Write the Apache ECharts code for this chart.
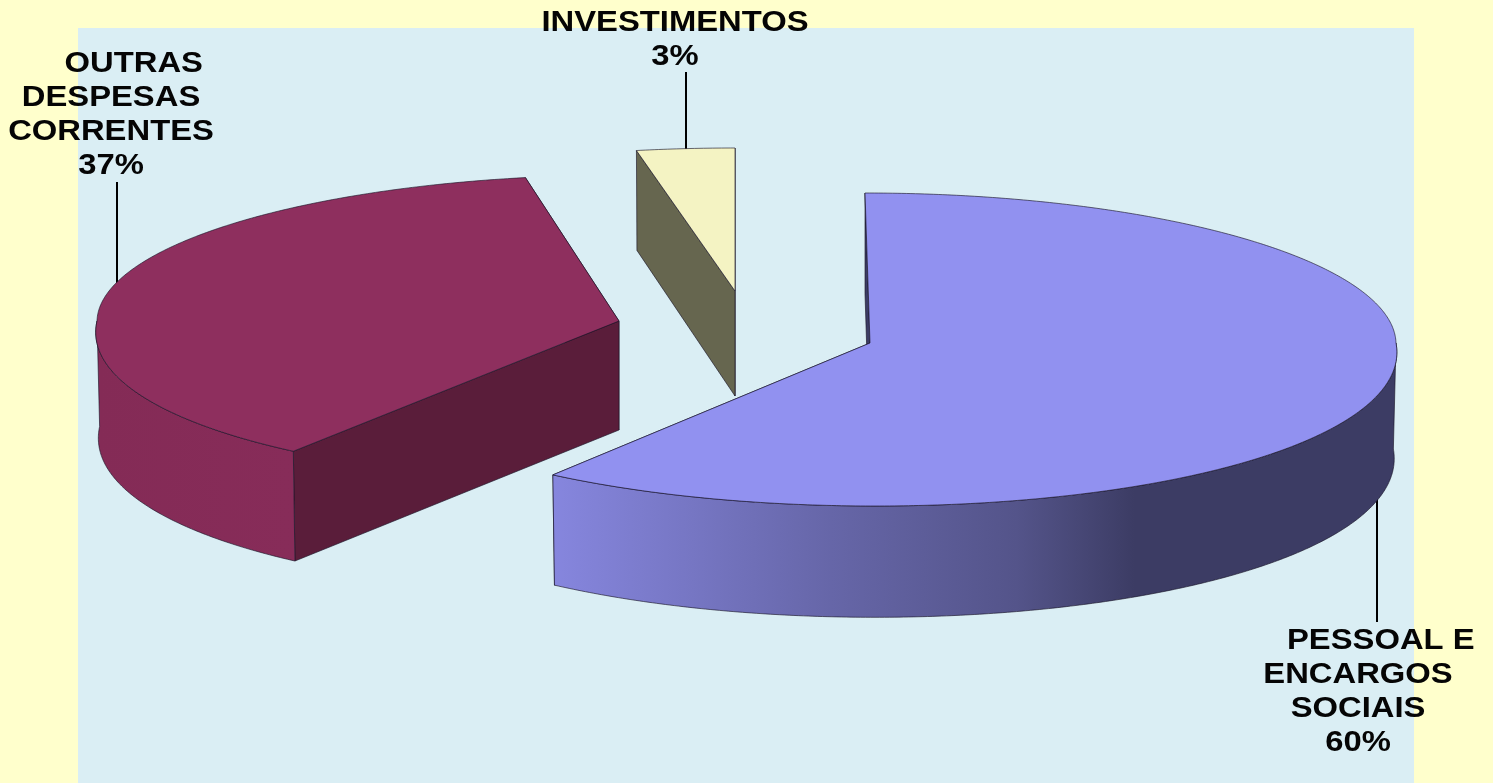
<!DOCTYPE html>
<html><head><meta charset="utf-8">
<style>html,body{margin:0;padding:0;background:#ffffcc}#c{width:1493px;height:783px}</style>
<script src="https://cdn.jsdelivr.net/npm/echarts@6/dist/echarts.min.js"></script>
</head><body><div id="c"></div>
<script>
const categories = ['     PESSOAL E\nENCARGOS\nSOCIAIS', '     OUTRAS\nDESPESAS\nCORRENTES', 'INVESTIMENTOS'];
const values = [60, 37, 3];

// Appearance and placement of each exploded slice
const slices = [
  {cx:870, cy:343, rx:526, ryB:150, ryF:163, d:106, ad:109, w:.048, top:'#9191f0', wall:'#3c3c64',
   rim:{type:'linear',x:553,y:0,x2:1396,y2:0,global:true,colorStops:[
     {offset:0,color:'#8686de'},{offset:.33,color:'#6666a8'},{offset:.55,color:'#54548a'},
     {offset:.69,color:'#3c3c64'},{offset:1,color:'#3c3c64'}]},
   label:[1358,692], leader:[1377,497,1377,622], z:3},
  {cx:619, cy:321, rx:522, ryB:146, ryF:161, d:105.5, ad:109, w:.062, top:'#8e2f5e', wall:'#5a1d3a',
   rim:{type:'linear',x:97,y:0,x2:292,y2:0,global:true,colorStops:[
     {offset:0,color:'#842b56'},{offset:1,color:'#872c59'}]},
   label:[111,115], leader:[117,182,117,292], z:2},
  {cx:735, cy:291, rx:526, ryB:143, ryF:161, d:105, ad:105, w:.048, top:'#f4f3c3', wall:'#66664f', rim:'#66664f',
   label:[675,40], leader:[686,72,686,152], z:1}
];
const vanishX = 735, persp = 0.037, edge = 'rgba(25,20,40,.8)';

function pt(s, deg, base) {
  const a = deg * Math.PI / 180, u = Math.sin(a), v = -Math.cos(a);
  const wide = 1 + s.w * Math.max(v, 0);
  const x = s.cx + s.rx * u * wide * (base ? 0.995 : 1) + (s.cx - vanishX) * persp * v;
  const y = s.cy + (v < 0 ? s.ryB : s.ryF) * v;
  return base ? [x, y + s.d * (1 + 0.05 * v)] : [x, y];
}
function arc(s, a0, a1, base) {
  const out = [], n = Math.max(2, Math.ceil((a1 - a0) * 2));
  for (let i = 0; i <= n; i++) out.push(pt(s, a0 + (a1 - a0) * i / n, base));
  return out;
}
function sideWall(s, deg) {
  return [[s.cx, s.cy], pt(s, deg), pt(s, deg, true), [s.cx, s.cy + s.ad]];
}
function poly(points, fill, z2) {
  return {type:'polygon', z2, shape:{points}, style:{fill, stroke:edge, lineWidth:0.8}};
}

const total = values.reduce((a, b) => a + b, 0);
let acc = 0;
const spans = values.map(v => { const a0 = acc; acc += v / total * 360; return [a0, acc]; });

function renderItem(params, api) {
  const i = params.dataIndex, s = slices[i], [a0, a1] = spans[i], base = s.z * 10;
  const kids = [];
  const L = s.leader;
  kids.push({type:'line', z2:0, shape:{x1:L[0],y1:L[1],x2:L[2],y2:L[3]}, style:{stroke:'#000',lineWidth:2}});
  // far side wall first, nearer one over it
  const ordered = [a0, a1].sort((p, q) => Math.cos(q * Math.PI / 180) - Math.cos(p * Math.PI / 180));
  kids.push(poly(sideWall(s, ordered[0]), s.wall, base));
  kids.push(poly(sideWall(s, ordered[1]), s.wall, base + 1));
  const r0 = Math.max(a0, 90), r1 = Math.min(a1, 270);
  if (r1 > r0) kids.push(poly(arc(s, r0, r1).concat(arc(s, r0, r1, true).reverse()), s.rim, base + 2));
  kids.push(poly([[s.cx, s.cy]].concat(arc(s, a0, a1)), s.top, base + 3));
  kids.push({type:'text', z2:100, x:s.label[0], y:s.label[1], scaleX:1.13,
    style:{text:categories[i] + '\n' + api.value(0) + '%', align:'center', verticalAlign:'middle',
      font:'bold 29px "Liberation Sans", Arial, sans-serif', lineHeight:34, fill:'#050505'}});
  return {type:'group', children:kids};
}

const chart = echarts.init(document.getElementById('c'), null, {renderer:'canvas'});
chart.setOption({
  animation:false,
  backgroundColor:'#ffffcc',
  graphic:[{type:'rect', z:-1, shape:{x:78,y:28,width:1336,height:755}, style:{fill:'#daeef4'}}],
  series:[{type:'custom', coordinateSystem:'none', renderItem, data:values.map(v => [v]), silent:true}]
});
</script></body></html>
